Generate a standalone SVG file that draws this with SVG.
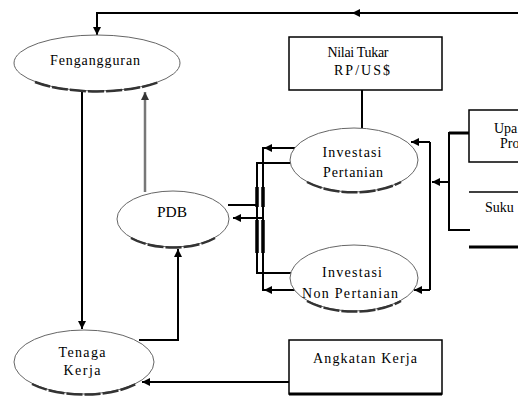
<svg xmlns="http://www.w3.org/2000/svg" width="518" height="398" viewBox="0 0 518 398" font-family="'Liberation Serif', 'Times New Roman', serif">
<style>
text{font-family:'Liberation Serif','Times New Roman',serif;font-size:14px;fill:#000;text-anchor:middle}
.ln{fill:none;stroke:#000;stroke-width:2}
.box{fill:#fff;stroke:#000;stroke-width:1.5}
.sh{fill:none;stroke:#333;stroke-width:2.5;stroke-dasharray:16 2}
.el{fill:#fff;stroke:#666;stroke-width:1}
</style>
<defs>
<marker id="ah" viewBox="0 0 10 10" refX="10" refY="5" markerWidth="9" markerHeight="8" markerUnits="userSpaceOnUse" orient="auto">
<path d="M0,0L10,5L0,10z" fill="#000"/>
</marker>
<marker id="ahg" viewBox="0 0 10 10" refX="10" refY="5" markerWidth="9" markerHeight="8" markerUnits="userSpaceOnUse" orient="auto">
<path d="M0,0L10,5L0,10z" fill="#333"/>
</marker>
</defs>
<g id="connectors">
<polyline class="ln" points="518,13 97,13 97,35" marker-end="url(#ah)"/>
<path d="M362,13L352,13" class="ln" marker-end="url(#ah)"/>
<line class="ln" x1="82" y1="92" x2="82" y2="329" marker-end="url(#ah)"/>
<line x1="145" y1="192" x2="145" y2="92" stroke="#777" stroke-width="2.5" marker-end="url(#ahg)"/>
<polyline class="ln" points="139,340 178,340 178,249" marker-end="url(#ah)" stroke-width="2.5"/>
<line class="ln" x1="289" y1="382" x2="142" y2="382" marker-end="url(#ah)"/>
<line class="ln" x1="362" y1="90" x2="362" y2="128"/>
<polyline class="ln" points="295,148 263,148 263,290 295,290"/>
<path d="M275,148L264,148" class="ln" marker-end="url(#ah)"/>
<path d="M275,290L264,290" class="ln" marker-end="url(#ah)"/>
<polyline class="ln" points="295,163 257,163 257,273 295,273"/>
<line class="ln" x1="228" y1="205" x2="257" y2="205"/>
<line class="ln" x1="263" y1="218" x2="233" y2="218" marker-end="url(#ah)"/>
<line x1="257" y1="187" x2="257" y2="207" stroke="#000" stroke-width="3.5"/>
<line x1="263" y1="187" x2="263" y2="207" stroke="#000" stroke-width="3.5"/>
<line x1="257" y1="220" x2="257" y2="253" stroke="#000" stroke-width="3.5"/>
<line x1="263" y1="220" x2="263" y2="253" stroke="#000" stroke-width="3.5"/>
<polyline class="ln" points="430,142 430,290"/>
<line class="ln" x1="430" y1="142" x2="411" y2="142" marker-end="url(#ah)"/>
<line class="ln" x1="430" y1="290" x2="414" y2="290" marker-end="url(#ah)"/>
<polyline class="ln" points="470,133 449,133 449,230 470,230"/>
<line x1="449" y1="133" x2="470" y2="133" stroke="#000" stroke-width="3"/>
<line class="ln" x1="449" y1="182" x2="432" y2="182" marker-end="url(#ah)"/>
</g>
<g id="fengangguran">
<ellipse class="el" cx="97" cy="63" rx="83" ry="28"/>
<path class="sh" d="M35,82 A83,28 0 0 0 159,82"/>
<text x="95" y="65" textLength="90" lengthAdjust="spacing">Fengangguran</text>
</g>
<g id="pdb">
<ellipse class="el" cx="173" cy="219" rx="56" ry="28"/>
<path class="sh" d="M131,238 A56,28 0 0 0 215,238"/>
<text x="172" y="217" textLength="30" lengthAdjust="spacingAndGlyphs">PDB</text>
</g>
<g id="tenaga-kerja">
<ellipse class="el" cx="84" cy="362" rx="70" ry="32"/>
<path class="sh" d="M32,384 A70,32 0 0 0 136,384"/>
<text x="82" y="357" textLength="47" lengthAdjust="spacing">Tenaga</text>
<text x="82" y="375" textLength="37" lengthAdjust="spacing">Kerja</text>
</g>
<g id="nilai-tukar">
<rect class="box" x="289" y="37" width="153" height="53"/>
<text x="358" y="57" textLength="61" lengthAdjust="spacing">Nilai Tukar</text>
<text x="362" y="75" textLength="56" lengthAdjust="spacing">RP/US$</text>
</g>
<g id="investasi-pertanian">
<ellipse class="el" cx="354" cy="160" rx="64" ry="32"/>
<path class="sh" d="M307,182 A64,32 0 0 0 401,182"/>
<text x="352" y="157" textLength="59" lengthAdjust="spacing">Investasi</text>
<text x="353" y="177" textLength="60" lengthAdjust="spacing">Pertanian</text>
</g>
<g id="investasi-non-pertanian">
<ellipse class="el" cx="354" cy="278" rx="64" ry="33"/>
<path class="sh" d="M307,301 A64,33 0 0 0 401,301"/>
<text x="352" y="277" textLength="60" lengthAdjust="spacing">Investasi</text>
<text x="350" y="298" textLength="96" lengthAdjust="spacing">Non Pertanian</text>
</g>
<g id="upah">
<rect class="box" x="469" y="110" width="60" height="52"/>
<text x="494" y="133" style="text-anchor:start">Upa</text>
<text x="500" y="148" style="text-anchor:start">Pro</text>
</g>
<g id="suku">
<line x1="469" y1="192" x2="518" y2="192" stroke="#000" stroke-width="1.5"/>
<line x1="469" y1="247" x2="518" y2="247" stroke="#000" stroke-width="3"/>
<text x="485" y="212" style="text-anchor:start">Suku</text>
</g>
<g id="angkatan-kerja">
<rect class="box" x="289" y="340" width="153" height="54"/>
<line x1="289" y1="394" x2="442" y2="394" stroke="#000" stroke-width="3"/>
<text x="365" y="363" textLength="104" lengthAdjust="spacing">Angkatan Kerja</text>
</g>
</svg>
